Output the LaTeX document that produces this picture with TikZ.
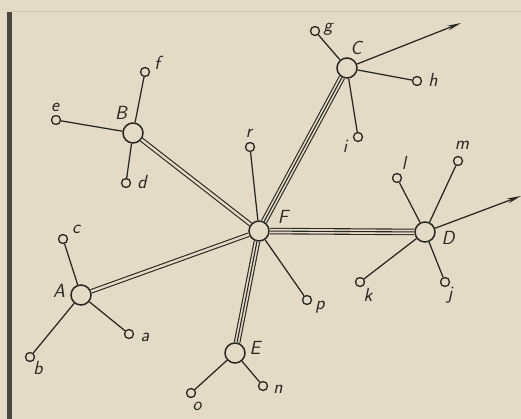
\documentclass[tikz,border=0pt]{standalone}
\usetikzlibrary{arrows.meta}
\definecolor{paper}{RGB}{227,219,198}
\definecolor{ink}{RGB}{42,38,33}
\begin{document}
\begin{tikzpicture}[x=1pt,y=-1pt,
  big/.style={circle,draw=ink,fill=paper,line width=1.5pt,minimum size=20pt,inner sep=0pt},
  small/.style={circle,draw=ink,fill=paper,line width=1.3pt,minimum size=9pt,inner sep=0pt},
  lbl/.style={font=\sffamily\slshape\fontsize{19}{19}\selectfont,text=ink,inner sep=0pt},
  lnk/.style={draw=ink,line width=1.25pt},
  dbl/.style={draw=ink,line width=1.1pt,double=paper,double distance=2.4pt},
  tpl/.style={draw=ink,line width=1.1pt,double=paper,double distance=4.4pt},
  arr/.style={lnk,-{Stealth[length=14pt,width=5pt]}}]
\fill[paper] (0,0) rectangle (521,419);
\useasboundingbox (0,0) rectangle (521,419);
\fill[ink!85] (7,12) rectangle (12,419);
\draw[paper!90!black,line width=0.4pt] (12,11) -- (521,11);
% main nodes
\node[big] (F) at (259,231) {};
\node[big] (A) at (81,295) {};
\node[big] (B) at (133,133) {};
\node[big] (C) at (347,68) {};
\node[big] (D) at (425,232) {};
\node[big] (E) at (235,353) {};
% small nodes
\node[small] (a) at (129,334) {};
\node[small] (b) at (30,357) {};
\node[small] (c) at (63,239) {};
\node[small] (d) at (126,183) {};
\node[small] (e) at (56,120) {};
\node[small] (f) at (145,72) {};
\node[small] (g) at (315,31) {};
\node[small] (h) at (417,81) {};
\node[small] (i) at (358,137) {};
\node[small] (l) at (397,178) {};
\node[small] (m) at (458,161) {};
\node[small] (k) at (360,282) {};
\node[small] (j) at (445,282) {};
\node[small] (p) at (307,300) {};
\node[small] (r) at (250,147) {};
\node[small] (o) at (191,393) {};
\node[small] (n) at (263,386) {};
\coordinate (cout) at (461,23);
\coordinate (dout) at (521,196);
% connectors
\draw[dbl] (F) -- (A);
\draw[dbl] (F) -- (B);
\draw[tpl] (F) -- (C); \draw[lnk,line width=1.1pt] (F) -- (C);
\draw[tpl] (F) -- (D); \draw[lnk,line width=1.1pt] (F) -- (D);
\draw[tpl] (F) -- (E); \draw[lnk,line width=1.1pt] (F) -- (E);
\draw[lnk] (F) -- (r);
\draw[lnk] (F) -- (p);
\draw[lnk] (A) -- (a);
\draw[lnk] (A) -- (b);
\draw[lnk] (A) -- (c);
\draw[lnk] (B) -- (d);
\draw[lnk] (B) -- (e);
\draw[lnk] (B) -- (f);
\draw[lnk] (C) -- (g);
\draw[lnk] (C) -- (h);
\draw[lnk] (C) -- (i);
\draw[lnk] (D) -- (l);
\draw[lnk] (D) -- (m);
\draw[lnk] (D) -- (k);
\draw[lnk] (D) -- (j);
\draw[lnk] (E) -- (o);
\draw[lnk] (E) -- (n);
\draw[arr] (C) -- (cout);
\draw[arr] (D) -- (dout);
% labels
\node[lbl] (lA) at (59,291) {A};
\node[lbl] (lB) at (121,113) {B};
\node[lbl] (lC) at (356,48) {C};
\node[lbl] (lD) at (448,238) {D};
\node[lbl] (lE) at (255,348) {E};
\node[lbl] (lF) at (283,217) {F};
\node[lbl] (la) at (145,337) {a};
\node[lbl] (lb) at (38,368) {b};
\node[lbl] (lc) at (76,229) {c};
\node[lbl] (ld) at (142,182) {d};
\node[lbl] (le) at (55,107) {e};
\node[lbl] (lf) at (157,63) {f};
\node[lbl] (lg) at (328,29) {g};
\node[lbl] (lh) at (433,80) {h};
\node[lbl] (li) at (345,146) {i};
\node[lbl] (ll) at (404,163) {l};
\node[lbl] (lm) at (462,145) {m};
\node[lbl] (lk) at (368,295) {k};
\node[lbl] (lj) at (450,295) {j};
\node[lbl] (lp) at (320,307) {p};
\node[lbl] (lr) at (249,133) {r};
\node[lbl] (lo) at (197,406) {o};
\node[lbl] (ln) at (278,389) {n};
\end{tikzpicture}
\end{document}
